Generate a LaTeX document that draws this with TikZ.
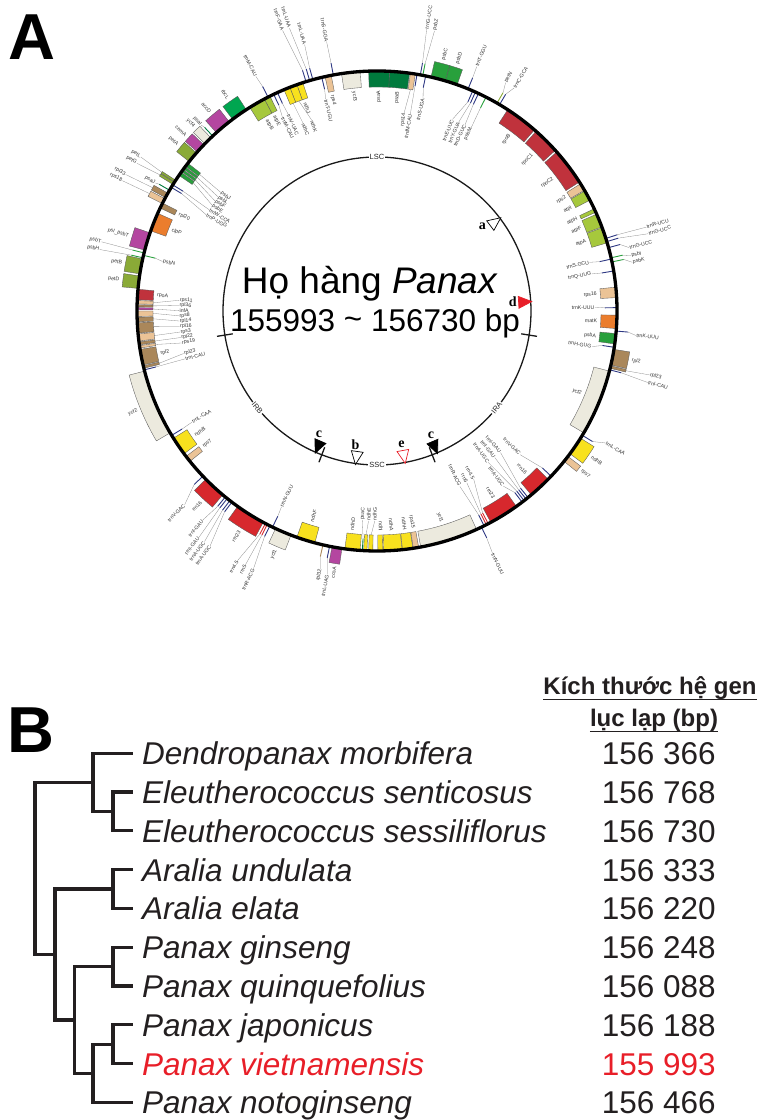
\documentclass[tikz,border=0pt]{standalone}
\usepackage{fontspec}
\setmainfont{Liberation Sans}
\newfontfamily\letterfont{Liberation Serif}
\usetikzlibrary{calc}
\definecolor{psI}{RGB}{0,122,61}
\definecolor{psII}{RGB}{40,160,60}
\definecolor{pet}{RGB}{138,170,55}
\definecolor{atp}{RGB}{166,200,60}
\definecolor{ndh}{RGB}{248,225,30}
\definecolor{rbc}{RGB}{0,166,80}
\definecolor{rpo}{RGB}{192,50,60}
\definecolor{rps}{RGB}{235,195,150}
\definecolor{rpl}{RGB}{170,135,90}
\definecolor{orangeg}{RGB}{235,125,45}
\definecolor{other}{RGB}{180,70,160}
\definecolor{ycf}{RGB}{236,234,222}
\definecolor{trna}{RGB}{45,55,130}
\definecolor{rrna}{RGB}{215,40,45}
\definecolor{treegray}{RGB}{35,31,32}
\definecolor{vred}{RGB}{232,30,40}
\tikzset{
	genebox/.style={draw=black!65, line width=0.35pt},
	trnaline/.style={line width=0.9pt},
	leader/.style={draw=black!45, line width=0.3pt},
	glabel/.style={font=\fontsize{5.2}{5.2}\selectfont, text=black!80, inner sep=0.4pt},
	ringline/.style={line width=1.3pt, draw=black!90},
	ringlabel/.style={font=\fontsize{7.5}{8}\selectfont, text=black!85, fill=white, inner sep=1pt},
	tag/.style={font=\letterfont\bfseries\fontsize{14}{14}\selectfont, inner sep=0pt},
	panel/.style={font=\bfseries\fontsize{65}{70}\selectfont, anchor=base west, inner sep=0pt},
	branch/.style={line width=3.2pt, draw=treegray, line cap=rect},
	taxon/.style={font=\itshape\fontsize{31.5}{34}\selectfont, anchor=base west, inner sep=0pt, text=treegray},
	bpsize/.style={font=\fontsize{31.5}{34}\selectfont, anchor=base east, inner sep=0pt, text=treegray},
	header/.style={font=\bfseries\fontsize{24}{26}\selectfont, anchor=base, inner sep=0pt, text=treegray},
	uline/.style={line width=1.8pt, draw=treegray},
}
\newcounter{glab}
% gene box: from, to, colour, side (1 out, -1 in)
\newcommand{\gene}[4]{%
	\pgfmathsetmacro{\gro}{240+16*(#4)}%
	\filldraw[genebox, fill=#3] (#1:240) arc[start angle=#1, end angle=#2, radius=240]
		-- (#2:\gro) arc[start angle=#2, end angle=#1, radius=\gro] -- cycle;}
% thin gene: angle, colour, side
\newcommand{\trnl}[3]{%
	\pgfmathsetmacro{\gro}{240+12*(#3)}%
	\draw[trnaline, #2] (#1:240) -- (#1:\gro);}
% label with leader: [tip]{gene angle}{label angle}{side}{distance}{text}
\newcommand{\glab}[6][12]{%
	\stepcounter{glab}%
	\pgfmathsetmacro{\gra}{240+#1*(#4)}%
	\pgfmathsetmacro{\grb}{240+#5*(#4)}%
	\pgfmathsetmacro{\grot}{cos(#3)>=0 ? #3 : #3+180}%
	\pgfmathsetmacro{\gsd}{(cos(#3)>=0 ? 1 : -1)*(#4)}%
	\ifdim\gsd pt>0pt\def\ganc{west}\else\def\ganc{east}\fi
	\draw[leader] (#2:\gra) -- (#3:\grb);
	\node[glabel, rotate=\grot, anchor=\ganc] (gl\theglab) at (#3:\grb) {#6};}
% label next to a box: angle, side, text
\newcommand{\blab}[3]{%
	\stepcounter{glab}%
	\pgfmathsetmacro{\grb}{240+19*(#2)}%
	\pgfmathsetmacro{\grot}{cos(#1)>=0 ? #1 : #1+180}%
	\pgfmathsetmacro{\gsd}{(cos(#1)>=0 ? 1 : -1)*(#2)}%
	\ifdim\gsd pt>0pt\def\ganc{west}\else\def\ganc{east}\fi
	\node[glabel, rotate=\grot, anchor=\ganc] (gl\theglab) at (#1:\grb) {#3};}
% marker triangle on the inner ring
\newcommand{\tri}[2]{\draw[#2, line width=0.7pt] (#1:155) -- ({#1+2.4}:142) -- ({#1-2.4}:142) -- cycle;}

\begin{document}
\begin{tikzpicture}[x=1pt, y=1pt]
\useasboundingbox (0,0) rectangle (764,1120);

\node[panel] (pa) at (8,1060) {A};

\begin{scope}[shift={(377,809)}]
% LSC
\gene{-7.9}{-5.4}{psII}{-1}
\gene{-4.2}{-1}{orangeg}{-1}
\gene{3.2}{5.7}{rps}{-1}
\gene{16.5}{20.3}{atp}{-1}
\gene{20.5}{23.8}{atp}{-1}
\gene{24.3}{25.2}{atp}{-1}
\gene{27.5}{30}{atp}{-1}
\gene{30.2}{32}{rps}{-1}
\gene{32.5}{41.5}{rpo}{-1}
\gene{42}{48.5}{rpo}{-1}
\gene{49}{57}{rpo}{-1}
\gene{70.5}{73.5}{psII}{1}
\gene{73.5}{77}{psII}{1}
\gene{80.8}{82}{rps}{-1}
\gene{82.2}{87}{psI}{-1}
\gene{87}{92}{psI}{-1}
\gene{94}{98.5}{ycf}{-1}
\gene{101}{102.5}{rps}{-1}
\gene{108}{109.5}{ndh}{-1}
\gene{109.5}{111.3}{ndh}{-1}
\gene{111.3}{112.8}{ndh}{-1}
\gene{116.5}{118}{atp}{-1}
\gene{118}{122}{atp}{-1}
\gene{123}{127}{rbc}{1}
\gene{128}{132}{other}{1}
\gene{133.8}{135.8}{ycf}{1}
\gene{136.2}{138.5}{other}{1}
\gene{138.8}{141.5}{pet}{1}
\gene{142}{142.9}{psII}{-1}
\gene{143.1}{143.7}{psII}{-1}
\gene{143.9}{144.5}{psII}{-1}
\gene{144.7}{145.6}{psII}{-1}
\gene{147}{147.5}{pet}{1}
\gene{147.6}{148.2}{pet}{1}
\gene{150.6}{151.8}{rpl}{1}
\gene{152.1}{153.4}{rps}{1}
\gene{153.3}{154.6}{rpl}{-1}
\gene{156}{160.5}{orangeg}{-1}
\gene{161}{165.3}{other}{1}
\gene{167.5}{171.1}{pet}{1}
\gene{171.6}{174.6}{pet}{1}
\gene{174.8}{177.3}{rpo}{-1}
\gene{177.5}{178.3}{rps}{-1}
\gene{178.5}{179}{rpl}{-1}
\gene{179.2}{179.7}{other}{-1}
\gene{180}{181.3}{rps}{-1}
\gene{181.5}{182.6}{rpl}{-1}
\gene{182.8}{185.3}{rpl}{-1}
\gene{185.5}{187.2}{rps}{-1}
\gene{187.4}{188.1}{rpl}{-1}
\gene{188.3}{188.9}{rps}{-1}
% IRB
\gene{189.2}{193}{rpl}{-1}
\gene{193.2}{193.8}{rpl}{-1}
\gene{194.5}{210.5}{ycf}{1}
\gene{212}{216.5}{ndh}{-1}
\gene{217.3}{218.8}{rps}{-1}
\gene{224.5}{230}{rrna}{1}
\gene{234.5}{241.7}{rrna}{1}
\gene{245}{249}{ycf}{1}
% SSC
\gene{250.5}{255}{ndh}{-1}
\gene{259.2}{261.6}{other}{1}
\gene{262.3}{266}{ndh}{-1}
\gene{266.8}{267.6}{ndh}{-1}
\gene{268}{269}{ndh}{-1}
\gene{270.2}{271.4}{ndh}{-1}
\gene{271.6}{276}{ndh}{-1}
\gene{276.1}{278.6}{ndh}{-1}
\gene{278.7}{280}{rps}{-1}
\gene{280.5}{294.5}{ycf}{-1}
% IRA
\gene{298.3}{305.5}{rrna}{-1}
\gene{310}{315.5}{rrna}{-1}
\gene{321.2}{322.7}{rps}{1}
\gene{323.5}{328}{ndh}{1}
\gene{329.5}{345.5}{ycf}{-1}
\gene{346.2}{346.8}{rpl}{1}
\gene{347}{350.8}{rpl}{1}

% small genes
\trnl{-8.7}{trna}{-1}
\trnl{-4.8}{trna}{1}
\trnl{0.8}{trna}{-1}
\trnl{9.6}{trna}{-1}
\trnl{12.5}{trna}{-1}
\trnl{11.8}{psII}{1}
\trnl{12.8}{psII}{1}
\trnl{15.3}{trna}{1}
\trnl{16.8}{trna}{1}
\trnl{17.6}{trna}{1}
\trnl{59.3}{trna}{1}
\trnl{60}{pet}{1}
\trnl{63}{psII}{-1}
\trnl{65}{trna}{-1}
\trnl{65.8}{trna}{-1}
\trnl{66.5}{trna}{-1}
\trnl{67.7}{trna}{1}
\trnl{78.3}{trna}{-1}
\trnl{79}{psII}{1}
\trnl{79.6}{trna}{1}
\trnl{80.4}{trna}{-1}
\trnl{100.5}{trna}{1}
\trnl{103.3}{trna}{-1}
\trnl{105.5}{trna}{1}
\trnl{106.3}{trna}{1}
\trnl{107.2}{trna}{1}
\trnl{114.5}{trna}{-1}
\trnl{115.5}{trna}{-1}
\trnl{117}{trna}{1}
\trnl{133.2}{psI}{1}
\trnl{148.3}{trna}{-1}
\trnl{149}{trna}{-1}
\trnl{149.8}{psI}{1}
\trnl{166}{psII}{1}
\trnl{166.6}{psII}{-1}
\trnl{167.2}{psII}{1}
\trnl{194.2}{trna}{-1}
\trnl{211.2}{trna}{-1}
\trnl{223.5}{trna}{1}
\trnl{230.8}{trna}{1}
\trnl{231.4}{trna}{1}
\trnl{232.2}{trna}{1}
\trnl{232.8}{trna}{1}
\trnl{242.3}{rrna}{1}
\trnl{242.8}{rrna}{1}
\trnl{243.5}{trna}{1}
\trnl{244.2}{trna}{-1}
\trnl{257}{rpl}{1}
\trnl{258.6}{trna}{1}
\trnl{266.5}{psI}{-1}
\trnl{295.8}{trna}{1}
\trnl{296.5}{trna}{-1}
\trnl{297.1}{rrna}{-1}
\trnl{297.6}{rrna}{-1}
\trnl{307.2}{trna}{-1}
\trnl{307.8}{trna}{-1}
\trnl{308.4}{trna}{-1}
\trnl{309}{trna}{-1}
\trnl{316.5}{trna}{-1}
\trnl{328.8}{trna}{1}
\trnl{345.8}{trna}{1}

% gene names
\blab{-6.6}{-1}{psbA}
\glab{-8.7}{-9.4}{-1}{22}{trnH-GUG}
\blab{-2.6}{-1}{matK}
\glab{-4.8}{-5.4}{1}{20}{trnK-UUU}
\glab{0.8}{1}{-1}{22}{trnK-UUU}
\blab{4.4}{-1}{rps16}
\glab{9.6}{9.8}{-1}{22}{trnQ-UUG}
\glab{12.5}{12.9}{-1}{22}{trnS-GCU}
\glab{11.8}{10.8}{1}{20}{psbK}
\glab{12.8}{12.3}{1}{20}{psbI}
\glab{15.3}{14.1}{1}{20}{trnG-UCC}
\glab{16.8}{15.9}{1}{42}{trnG-UCC}
\glab{17.6}{17.3}{1}{42}{trnR-UCU}
\blab{18.4}{-1}{atpA}
\blab{22}{-1}{atpF}
\blab{24.7}{-1}{atpH}
\blab{28}{-1}{atpI}
\blab{31.1}{-1}{rps2}
\blab{37}{-1}{rpoC2}
\blab{45.2}{-1}{rpoC1}
\blab{53}{-1}{rpoB}
\glab{59.3}{58.4}{1}{22}{trnC-GCA}
\glab{60}{60.6}{1}{22}{petN}
\glab{63}{62.8}{-1}{34}{psbM}
\glab{65}{64.7}{-1}{34}{trnD-GUC}
\glab{65.8}{66.6}{-1}{34}{trnY-GUA}
\glab{66.5}{68.5}{-1}{34}{trnE-UUC}
\glab{67.7}{67.8}{1}{24}{trnT-GGU}
\blab{72}{1}{psbD}
\blab{75.2}{1}{psbC}
\glab{78.3}{77.8}{-1}{22}{trnS-UGA}
\glab{79}{78.4}{1}{46}{psbZ}
\glab{79.6}{80}{1}{46}{trnG-UCC}
\glab{80.4}{80.4}{-1}{40}{trnfM-CAU}
\glab[16]{81.4}{82.2}{-1}{40}{rps14}
\blab{84.6}{-1}{psaB}
\blab{89.5}{-1}{psaA}
\blab{96}{-1}{ycf3}
\glab{100.5}{100.6}{1}{34}{trnS-GGA}
\blab{101.7}{-1}{rps4}
\glab{103.3}{103.6}{-1}{22}{trnT-UGU}
\glab{105.5}{105.2}{1}{36}{trnL-UAA}
\glab{106.3}{107.2}{1}{56}{trnL-UAA}
\glab{107.2}{108.6}{1}{56}{trnF-GAA}
\blab{109}{-1}{ndhJ}
\glab[16]{110.4}{108.9}{-1}{38}{ndhK}
\glab[16]{112}{111.5}{-1}{38}{ndhC}
\glab{114.5}{114.3}{-1}{24}{trnV-UAC}
\glab{115.5}{116}{-1}{24}{trnM-CAU}
\glab{117}{117.3}{1}{24}{trnM-CAU}
\blab{117.8}{-1}{atpE}
\blab{120}{-1}{atpB}
\blab{125}{1}{rbcL}
\blab{130}{1}{accD}
\glab{133.2}{133.4}{1}{16}{psaI}
\blab{134.8}{1}{ycf4}
\blab{137.4}{1}{cemA}
\blab{140.2}{1}{petA}
\glab[16]{142.4}{142.8}{-1}{44}{psbJ}
\glab[16]{143.4}{144.3}{-1}{44}{psbL}
\glab[16]{144.2}{145.8}{-1}{44}{psbF}
\glab[16]{145.1}{147.3}{-1}{44}{psbE}
\glab{148.3}{148.9}{-1}{44}{trnW-CCA}
\glab{149}{150.6}{-1}{44}{trnP-UGG}
\glab[16]{147.2}{146.9}{1}{42}{petL}
\glab[16]{147.9}{148.4}{1}{42}{petG}
\glab{149.8}{150}{1}{16}{psaJ}
\glab[16]{151.2}{151.5}{1}{46}{rpl33}
\glab[16]{152.7}{152.9}{1}{46}{rps18}
\blab{153.9}{-1}{rpl20}
\blab{158.5}{-1}{clpP}
\blab{163.2}{1}{psI\_psbT}
\glab{166}{165.9}{1}{44}{psbT}
\glab{167.2}{167.5}{1}{44}{psbH}
\glab{166.6}{167}{-1}{20}{psbN}
\blab{169.3}{1}{petB}
\blab{173.1}{1}{petD}
\blab{176}{-1}{rpoA}
\glab[16]{177.9}{176.9}{-1}{42}{rps11}
\glab[16]{178.7}{178.4}{-1}{42}{rpl36}
\glab[16]{179.5}{179.9}{-1}{42}{infA}
\glab[16]{180.6}{181.4}{-1}{42}{rps8}
\glab[16]{182}{182.9}{-1}{42}{rpl14}
\glab[16]{184}{184.5}{-1}{42}{rpl16}
\glab[16]{186.3}{186.1}{-1}{42}{rps3}
\glab[16]{187.7}{187.7}{-1}{42}{rpl22}
\glab[16]{188.6}{189.3}{-1}{42}{rps19}
\blab{191}{-1}{rpl2}
\glab[16]{193.5}{192.4}{-1}{42}{rpl23}
\glab{194.2}{194}{-1}{42}{trnI-CAU}
\blab{202.5}{1}{ycf2}
\glab{211.2}{211}{-1}{24}{trnL-CAA}
\blab{214.3}{-1}{ndhB}
\blab{218}{-1}{rps7}
\glab{223.5}{225.2}{1}{33}{trnV-GAC}
\blab{227.3}{1}{rrn16}
\glab{230.8}{230.2}{1}{32}{trnI-GAU}
\glab{231.4}{231.8}{1}{48}{trnI-GAU}
\glab{232.2}{233.2}{1}{48}{trnA-UGC}
\glab{232.8}{234.6}{1}{48}{trnA-UGC}
\blab{238}{1}{rrn23}
\glab{242.3}{240.8}{1}{46}{rrn4.5}
\glab{242.8}{242.6}{1}{46}{rrn5}
\glab{243.5}{244.4}{1}{46}{trnR-ACG}
\glab{244.2}{244}{-1}{22}{trnN-GUU}
\blab{247}{1}{ycf1}
\blab{252.8}{-1}{ndhF}
\glab{257}{257.6}{1}{24}{rpl32}
\glab{258.6}{259.3}{1}{28}{trnL-UAG}
\blab{260.6}{1}{ccsA}
\blab{263.5}{-1}{ndhD}
\glab{266.5}{266}{-1}{30}{psaC}
\glab[16]{267.2}{267.7}{-1}{30}{ndhE}
\glab[16]{268.5}{269.4}{-1}{30}{ndhG}
\blab{271}{-1}{ndhI}
\blab{273.8}{-1}{ndhA}
\blab{277.3}{-1}{ndhH}
\blab{279.4}{-1}{rps15}
\blab{287}{-1}{ycf1}
\glab{295.8}{295.5}{1}{28}{trnN-GUU}
\glab{296.5}{295.3}{-1}{46}{trnR-ACG}
\glab{297.1}{297.6}{-1}{46}{rrn5}
\glab{297.6}{299.9}{-1}{46}{rrn4.5}
\blab{302}{-1}{rrn23}
\glab{307.2}{305.8}{-1}{24}{trnA-UGC}
\glab{307.8}{306.3}{-1}{52}{trnA-UGC}
\glab{308.4}{308.8}{-1}{52}{trnI-GAU}
\glab{309}{311.1}{-1}{52}{trnI-GAU}
\blab{312.6}{-1}{rrn16}
\glab{316.5}{314.9}{-1}{37}{trnV-GAC}
\blab{322}{1}{rps7}
\blab{325.8}{1}{ndhB}
\glab{328.8}{330}{1}{24}{trnL-CAA}
\blab{338}{-1}{ycf2}
\glab{345.8}{345.2}{1}{40}{trnI-CAU}
\glab[16]{346.5}{346.8}{1}{40}{rpl23}
\blab{349}{1}{rpl2}

% outer ring
\draw[line width=3.3pt] (0,0) circle[radius=240];

% inner ring with regions
\draw[ringline] (0,0) circle[radius=154];
\foreach \a in {-9,189,249,291}
	\draw[ringline] (\a:146) -- (\a:162);
\node[ringlabel] (lsc) at (90:154) {LSC};
\node[ringlabel, rotate=51] (ira) at (-39:154) {IRA};
\node[ringlabel] (ssc) at (-90:154) {SSC};
\node[ringlabel, rotate=-51] (irb) at (-141:154) {IRB};

\tri{37}{draw=black, fill=white}
\tri{3.5}{draw=vred, fill=vred}
\tri{-113.5}{draw=black, fill=black}
\tri{-98}{draw=black, fill=white}
\tri{-79.5}{draw=vred, fill=white}
\tri{-67}{draw=black, fill=black}
\node[tag] (ta) at (105.3,84.3) {a};
\node[tag] (td) at (135.7,9.3) {d};
\node[tag] (tc1) at (-58,-123) {c};
\node[tag] (tb) at (-21.5,-134) {b};
\node[tag] (te) at (24.5,-133) {e};
\node[tag] (tc2) at (54,-124) {c};

\node[font=\fontsize{37}{40}\selectfont, anchor=base, inner sep=0pt] (title) at (-7,17) {Họ hàng \textit{Panax}};
\node[font=\fontsize{31.5}{34}\selectfont, anchor=base, inner sep=0pt] (range) at (-2,-21) {155993 \raisebox{2pt}{\char"7E} 156730 bp};
\end{scope}

% B: tree
\node[panel] (pb) at (7,367) {B};
\node[header] (h1) at (650,425) {Kích thước hệ gen};
\node[header] (h2) at (654,393) {lục lạp (bp)};
\draw[uline] ($(h1.base west)+(0,-4.5)$) -- ($(h1.base east)+(0,-4.5)$);
\draw[uline] ($(h2.base west)+(0,-4.5)$) -- ($(h2.base east)+(0,-4.5)$);

\coordinate (t1) at (131.5,366.7);
\coordinate (t2) at (131.5,327.9);
\coordinate (t3) at (131.5,289.1);
\coordinate (t4) at (131.5,250.3);
\coordinate (t5) at (131.5,211.5);
\coordinate (t6) at (131.5,172.7);
\coordinate (t7) at (131.5,133.9);
\coordinate (t8) at (131.5,95.1);
\coordinate (t9) at (131.5,56.3);
\coordinate (t10) at (131.5,17.5);
\coordinate (nE) at (113,308.5);
\coordinate (nD) at (93,337.6);
\coordinate (nAr) at (113,230.9);
\coordinate (nPG) at (113,153.3);
\coordinate (nPJV) at (113,75.7);
\coordinate (nPN) at (93,46.6);
\coordinate (nPanax) at (74.5,100);
\coordinate (nAP) at (55,165.4);
\coordinate (root) at (35,251.5);

\draw[branch] (root) |- (nD);
\draw[branch] (root) |- (nAP);
\draw[branch] (nD) |- (t1);
\draw[branch] (nD) |- (nE);
\draw[branch] (nE) |- (t2);
\draw[branch] (nE) |- (t3);
\draw[branch] (nAP) |- (nAr);
\draw[branch] (nAP) |- (nPanax);
\draw[branch] (nAr) |- (t4);
\draw[branch] (nAr) |- (t5);
\draw[branch] (nPanax) |- (nPG);
\draw[branch] (nPanax) |- (nPN);
\draw[branch] (nPG) |- (t6);
\draw[branch] (nPG) |- (t7);
\draw[branch] (nPN) |- (nPJV);
\draw[branch] (nPN) |- (t10);
\draw[branch] (nPJV) |- (t8);
\draw[branch] (nPJV) |- (t9);

\node[taxon] (n1) at (142,355.2) {Dendropanax morbifera};
\node[taxon] (n2) at (142,316.4) {Eleutherococcus senticosus};
\node[taxon] (n3) at (142,277.6) {Eleutherococcus sessiliflorus};
\node[taxon] (n4) at (142,238.8) {Aralia undulata};
\node[taxon] (n5) at (142,200) {Aralia elata};
\node[taxon] (n6) at (142,161.2) {Panax ginseng};
\node[taxon] (n7) at (142,122.4) {Panax quinquefolius};
\node[taxon] (n8) at (142,83.6) {Panax japonicus};
\node[taxon, text=vred] (n9) at (142,44.8) {Panax vietnamensis};
\node[taxon] (n10) at (142,6) {Panax notoginseng};

\node[bpsize] (s1) at (716,355.2) {156 366};
\node[bpsize] (s2) at (716,316.4) {156 768};
\node[bpsize] (s3) at (716,277.6) {156 730};
\node[bpsize] (s4) at (716,238.8) {156 333};
\node[bpsize] (s5) at (716,200) {156 220};
\node[bpsize] (s6) at (716,161.2) {156 248};
\node[bpsize] (s7) at (716,122.4) {156 088};
\node[bpsize] (s8) at (716,83.6) {156 188};
\node[bpsize, text=vred] (s9) at (716,44.8) {155 993};
\node[bpsize] (s10) at (716,6) {156 466};
\end{tikzpicture}
\end{document}
